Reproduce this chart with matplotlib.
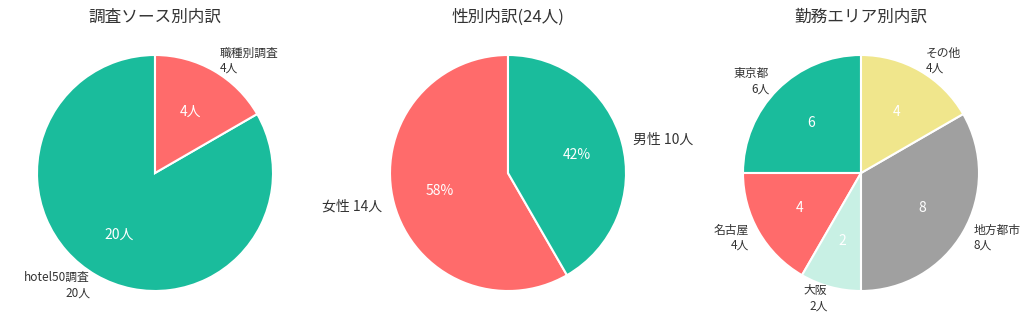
import matplotlib
matplotlib.use('Agg')
import matplotlib.pyplot as plt

plt.rcParams['font.family'] = ['Noto Sans CJK JP', 'DejaVu Sans']

# 調査ソース
source_labels = ['hotel50調査', '職種別調査']
source_counts = [20, 4]
source_colors = ['#1ABC9C', '#FF6B6B']

# 性別
gender_labels = ['女性', '男性']
gender_counts = [14, 10]
gender_colors = ['#FF6B6B', '#1ABC9C']

# 勤務エリア
area_labels = ['東京都', '名古屋', '大阪', '地方都市', 'その他']
area_counts = [6, 4, 2, 8, 4]
area_colors = ['#1ABC9C', '#FF6B6B', '#C8F0E4', '#A0A0A0', '#F0E68C']

W, H = 1024, 329
fig = plt.figure(figsize=(W / 100, H / 100), dpi=100)

size = 295
centers_x = [155, 508, 861]
cy = 173
axes = [fig.add_axes([(cx - size / 2) / W, (H - cy - size / 2) / H, size / W, size / H])
        for cx in centers_x]

wedge_style = dict(edgecolor='white', linewidth=1.5)
title_style = dict(fontsize=12, color='#333333', pad=3)

# 1: 調査ソース別内訳
ax = axes[0]
total1 = sum(source_counts)
_, texts, autotexts = ax.pie(
    source_counts, colors=source_colors, startangle=90,
    labels=[f'{l}\n{c}人' for l, c in zip(source_labels, source_counts)],
    autopct=lambda p: f'{round(p * total1 / 100)}人',
    wedgeprops=wedge_style, textprops=dict(fontsize=8.5, color='#333333'))
for t in autotexts:
    t.set_color('white')
    t.set_fontsize(10)
ax.set_title('調査ソース別内訳', **title_style)

# 2: 性別内訳
ax = axes[1]
total2 = sum(gender_counts)
_, texts, autotexts = ax.pie(
    gender_counts, colors=gender_colors, startangle=90,
    labels=[f'{l} {c}人' for l, c in zip(gender_labels, gender_counts)],
    autopct='%1.0f%%',
    wedgeprops=wedge_style, textprops=dict(fontsize=10, color='#333333'))
for t in autotexts:
    t.set_color('white')
ax.set_title(f'性別内訳({total2}人)', **title_style)

# 3: 勤務エリア別内訳
ax = axes[2]
total3 = sum(area_counts)
_, texts, autotexts = ax.pie(
    area_counts, colors=area_colors, startangle=90,
    labels=[f'{l}\n{c}人' for l, c in zip(area_labels, area_counts)],
    autopct=lambda p: f'{round(p * total3 / 100)}',
    wedgeprops=wedge_style, textprops=dict(fontsize=8.5, color='#333333'))
for t in autotexts:
    t.set_color('white')
    t.set_fontsize(10)
ax.set_title('勤務エリア別内訳', **title_style)

fig.savefig('out.png', dpi=100)
